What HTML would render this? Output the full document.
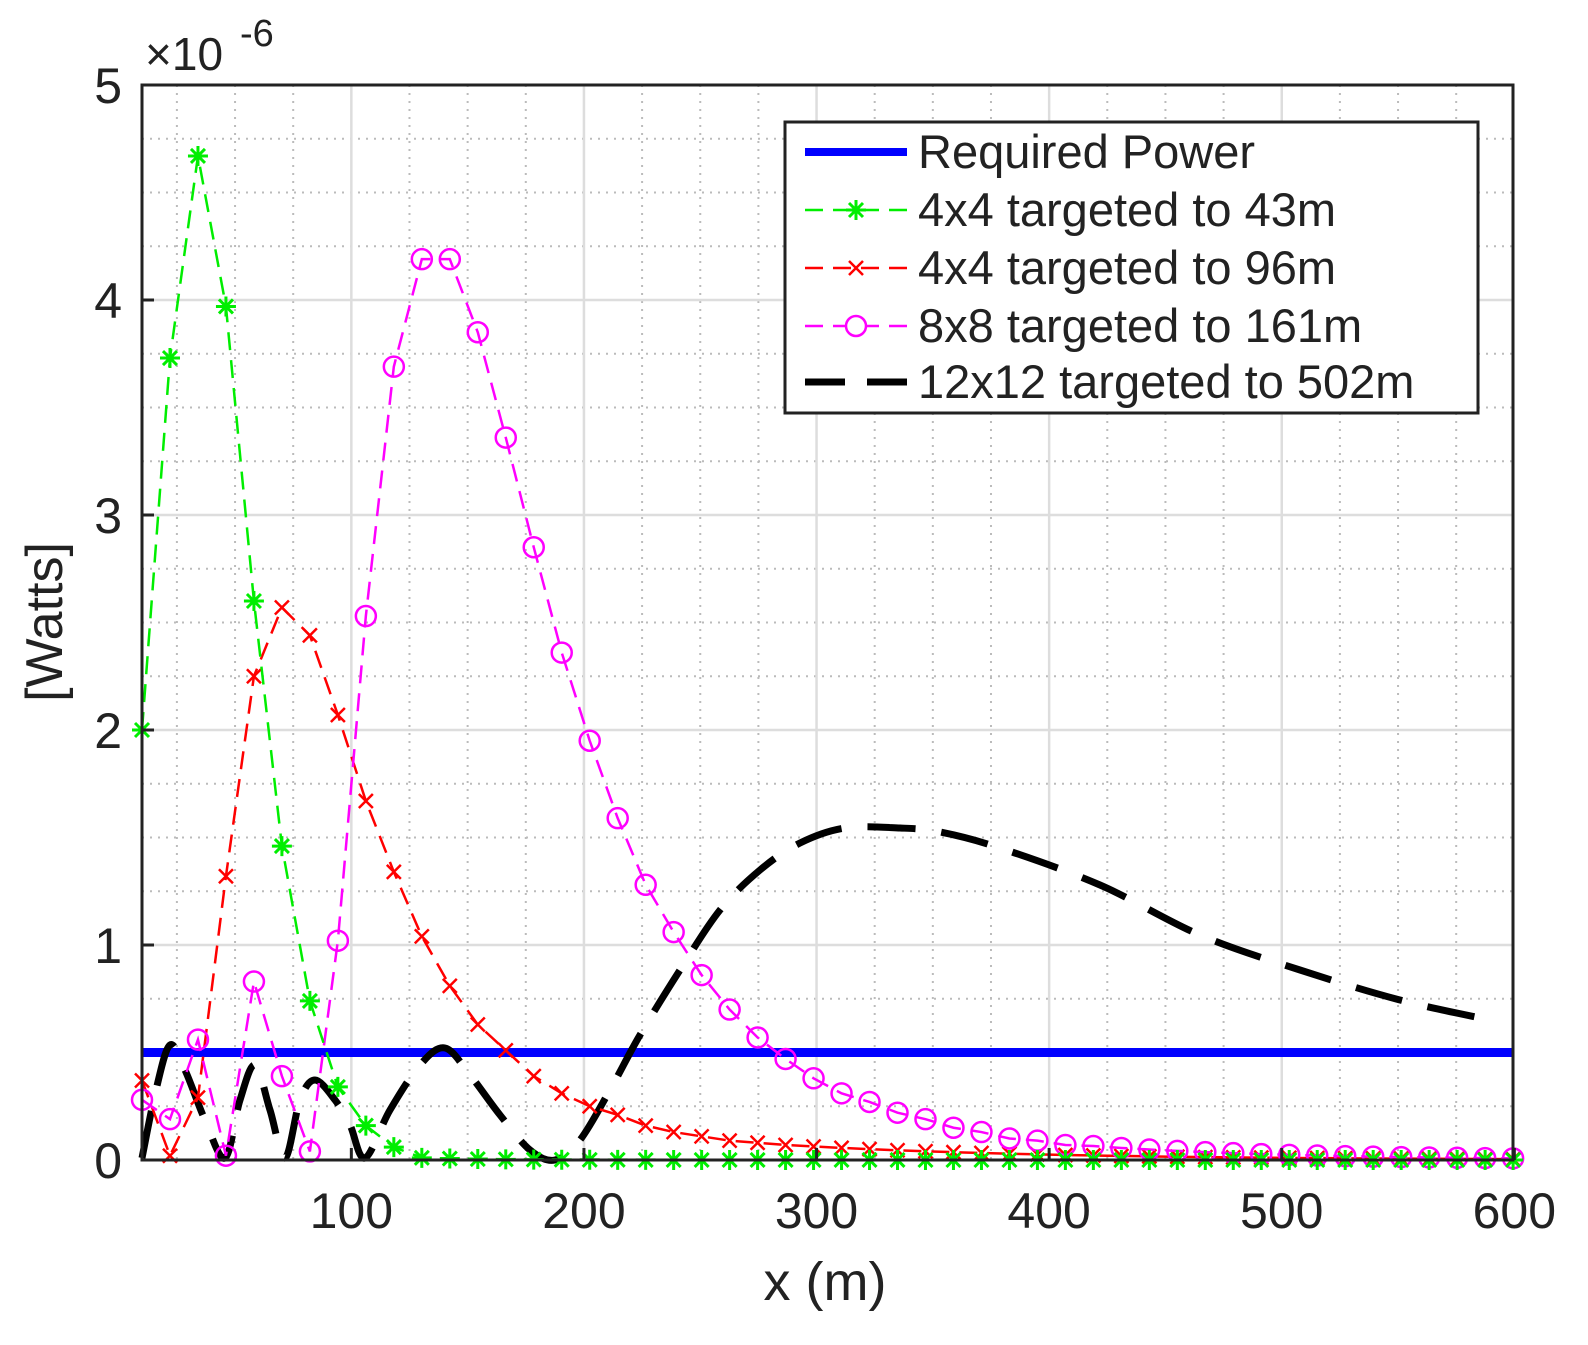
<!DOCTYPE html>
<html><head><meta charset="utf-8"><style>
html,body{margin:0;padding:0;background:#fff}
svg text{font-family:"Liberation Sans",sans-serif}
</style></head><body>
<svg id="s" width="1588" height="1340" xmlns="http://www.w3.org/2000/svg">
<rect width="1588" height="1340" fill="#fff"/>
<g id="grid"></g>
<g id="data"></g>
<rect x="142" y="85" width="1371" height="1075" fill="none" stroke="#222" stroke-width="3"/>
<g id="ticks" font-size="50" fill="#222"></g>
<text x="145" y="70" font-size="46" fill="#222">×10</text>
<text x="240" y="46" font-size="38" fill="#222">-6</text>
<text transform="translate(62,622) rotate(-90)" font-size="52" text-anchor="middle" fill="#222">[Watts]</text>
<text x="825" y="1300" font-size="54" text-anchor="middle" fill="#222">x (m)</text>
<g id="legend">
<rect x="785" y="122" width="693" height="291" fill="#fff" stroke="#222" stroke-width="3"/>
<line x1="805" y1="152" x2="907" y2="152" stroke="#0000ff" stroke-width="8"/>
<line x1="805" y1="210" x2="907" y2="210" stroke="#00ee00" stroke-width="2.5" stroke-dasharray="18,10"/>
<line x1="805" y1="268" x2="907" y2="268" stroke="#ff0000" stroke-width="2.5" stroke-dasharray="18,10"/>
<line x1="805" y1="326" x2="907" y2="326" stroke="#ff00ff" stroke-width="2.5" stroke-dasharray="18,10"/>
<line x1="805" y1="382" x2="907" y2="382" stroke="#000" stroke-width="7" stroke-dasharray="40,22"/>
<g font-size="47" fill="#222">
<text x="918" y="168">Required Power</text>
<text x="918" y="226">4x4 targeted to 43m</text>
<text x="918" y="284">4x4 targeted to 96m</text>
<text x="918" y="342">8x8 targeted to 161m</text>
<text x="918" y="398">12x12 targeted to 502m</text>
</g>
</g>
</svg>
<script>
const NS="http://www.w3.org/2000/svg";
function el(p,t,a){const e=document.createElementNS(NS,t);for(const k in a)e.setAttribute(k,a[k]);p.appendChild(e);return e;}
const X=x=>142+(x-10)*2.326, Y=y=>1160-y*215;
const g=document.getElementById('grid'),d=document.getElementById('data'),tk=document.getElementById('ticks');
for(let x=25;x<600;x+=25){if(x%100)el(g,'line',{x1:X(x),y1:85,x2:X(x),y2:1160,stroke:'#bbb','stroke-width':2,'stroke-dasharray':'2,6'});}
for(let y=0.25;y<5;y+=0.25){if(Math.abs(y-Math.round(y))>0.01)el(g,'line',{x1:142,y1:Y(y),x2:1513,y2:Y(y),stroke:'#bbb','stroke-width':2,'stroke-dasharray':'2,6'});}
for(let x=100;x<600;x+=100){el(g,'line',{x1:X(x),y1:85,x2:X(x),y2:1160,stroke:'#ddd','stroke-width':2.5});}
for(let y=1;y<5;y++){el(g,'line',{x1:142,y1:Y(y),x2:1513,y2:Y(y),stroke:'#ddd','stroke-width':2.5});}
for(let x=100;x<=600;x+=100){el(tk,'text',{x:X(x),y:1228,'text-anchor':'middle'}).textContent=x;
 el(tk,'line',{x1:X(x),y1:1160,x2:X(x),y2:1148,stroke:'#222','stroke-width':3});}
for(let y=0;y<=5;y++){el(tk,'text',{x:122,y:Y(y)+18,'text-anchor':'end'}).textContent=y;
 el(tk,'line',{x1:142,y1:Y(y),x2:154,y2:Y(y),stroke:'#222','stroke-width':3});}
el(d,'line',{x1:142,y1:Y(0.5),x2:1513,y2:Y(0.5),stroke:'#0000ff','stroke-width':9});
const bp=[[142,1158],[156,1090],[170,1045],[185,1070],[205,1120],[225,1158],[240,1100],[255,1065],[270,1110],[285,1158],[300,1100],[315,1080],[335,1100],[350,1125],[365,1158],[390,1110],[420,1065],[445,1048],[470,1075],[500,1115],[530,1150],[555,1160],[580,1140],[610,1090],[640,1035],[680,970],[720,910],[760,870],[800,843],[845,828],[900,828],[940,832],[1000,848],[1100,885],[1200,935],[1300,970],[1400,1000],[1490,1020]];
let pd='M'+bp[0];
for(let i=0;i<bp.length-1;i++){const p0=bp[Math.max(0,i-1)],p1=bp[i],p2=bp[i+1],p3=bp[Math.min(bp.length-1,i+2)];
 pd+=` C${p1[0]+(p2[0]-p0[0])/6},${p1[1]+(p2[1]-p0[1])/6} ${p2[0]-(p3[0]-p1[0])/6},${p2[1]-(p3[1]-p1[1])/6} ${p2[0]},${p2[1]}`;}
el(d,'path',{d:pd,fill:'none',stroke:'#000','stroke-width':7,'stroke-dasharray':'48,26'});
const xs=[];for(let i=0;i<50;i++)xs.push(10+i*12.03);
function fill(vals,tailY,decay){const out=vals.slice();for(let i=vals.length;i<50;i++){out.push(tailY*Math.exp(-(xs[i]-xs[vals.length-1])/decay));}return out;}
const green=fill([2.0,3.73,4.67,3.97,2.6,1.46,0.74,0.34,0.16,0.06,0.01],0.01,30);
const red=fill([0.37,0.02,0.29,1.32,2.25,2.57,2.44,2.07,1.67,1.34,1.04,0.81,0.63,0.51,0.39,0.31,0.25,0.21,0.16,0.13,0.11,0.09,0.08,0.07],0.07,110);
const mag=fill([0.28,0.19,0.56,0.02,0.83,0.39,0.04,1.02,2.53,3.69,4.19,4.19,3.85,3.36,2.85,2.36,1.95,1.59,1.28,1.06,0.86,0.70,0.57,0.47,0.38,0.31,0.27,0.22,0.19,0.15,0.13,0.10,0.09,0.07,0.065,0.056],0.056,85);
function series(vals,col,mk){const pts=vals.map((v,i)=>[X(xs[i]),Y(v)]);
 el(d,'polyline',{points:pts.map(p=>p.join(',')).join(' '),fill:'none',stroke:col,'stroke-width':2.5,'stroke-dasharray':'18,10'});
 pts.forEach(([x,y])=>{
  if(mk=='*'){const r=10;el(d,'path',{d:`M${x-r},${y}H${x+r}M${x},${y-r}V${y+r}M${x-7},${y-7}L${x+7},${y+7}M${x-7},${y+7}L${x+7},${y-7}`,stroke:col,'stroke-width':3});}
  else if(mk=='x'){const r=7;el(d,'path',{d:`M${x-r},${y-r}L${x+r},${y+r}M${x-r},${y+r}L${x+r},${y-r}`,stroke:col,'stroke-width':2.5});}
  else el(d,'circle',{cx:x,cy:y,r:10,fill:'none',stroke:col,'stroke-width':2.5});});}
series(red,'#ff0000','x');series(mag,'#ff00ff','o');series(green,'#00ee00','*');
const lg=document.getElementById('legend');
el(lg,'path',{d:'M846,210H866M856,200V220M849,203L863,217M849,217L863,203',stroke:'#00ee00','stroke-width':3});
el(lg,'path',{d:'M849,261L863,275M849,275L863,261',stroke:'#ff0000','stroke-width':2.5});
el(lg,'circle',{cx:856,cy:326,r:10,fill:'#fff',stroke:'#ff00ff','stroke-width':2.5});
</script>
</body></html>
